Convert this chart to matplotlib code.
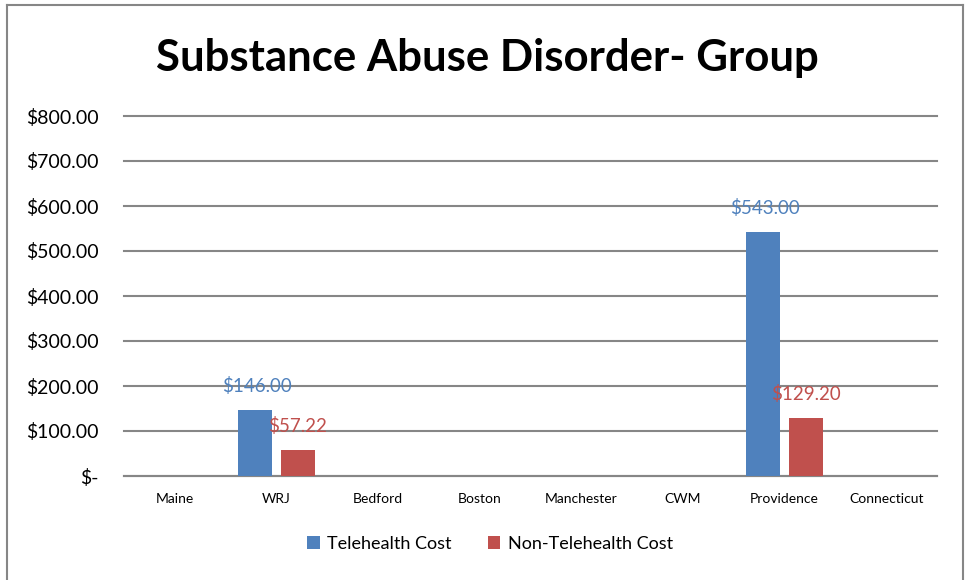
import numpy as np
import matplotlib.pyplot as plt
from matplotlib.lines import Line2D

sites = ["Maine", "WRJ", "Bedford", "Boston", "Manchester", "CWM", "Providence", "Connecticut"]
tele_cost = [0, 146.00, 0, 0, 0, 0, 543.00, 0]
non_tele_cost = [0, 57.22, 0, 0, 0, 0, 129.20, 0]
y_ticks = [0, 100, 200, 300, 400, 500, 600, 700, 800]

blue = "#4F81BD"
red = "#C0504D"
plt.rcParams['font.family'] = ['Lato', 'DejaVu Sans']

fig = plt.figure(figsize=(9.67, 5.8), dpi=100)
ax = fig.add_axes([124 / 967, 1 - 476 / 580, 813 / 967, 360 / 580])

x = np.arange(len(sites))
w = 0.335
b1 = ax.bar(x - 0.215, tele_cost, w, color=blue, label="Telehealth Cost", zorder=3)
b2 = ax.bar(x + 0.215, non_tele_cost, w, color=red, label="Non-Telehealth Cost", zorder=3)

for xi, v in zip(x, tele_cost):
    if v > 0:
        ax.annotate("${:,.2f}".format(v), (xi - 0.19, v), xytext=(0, 24), textcoords="offset pixels",
                    ha="center", va="center", color=blue, fontsize=13.5, zorder=4)
for xi, v in zip(x, non_tele_cost):
    if v > 0:
        ax.annotate("${:,.2f}".format(v), (xi + 0.21, v), xytext=(0, 24), textcoords="offset pixels",
                    ha="center", va="center", color=red, fontsize=13.5, zorder=4)

ax.set_xlim(-0.5, len(sites) - 0.5)
ax.set_ylim(0, 800)
ax.set_yticks(y_ticks)
ax.set_yticklabels(["$-"] + ["${:,.2f}".format(t) for t in y_ticks[1:]], fontsize=14)
ax.set_xticks(x)
ax.set_xticklabels(sites, fontsize=10)
ax.tick_params(axis="both", length=0)
ax.tick_params(axis="y", pad=18)
ax.tick_params(axis="x", pad=12)
ax.grid(axis="y", color="#868686", linewidth=1.5, zorder=0)
for gl in ax.get_ygridlines():
    gl.set_clip_on(False)
for s in ["top", "right", "left"]:
    ax.spines[s].set_visible(False)
ax.spines["bottom"].set_color("#868686")
ax.spines["bottom"].set_linewidth(1.5)

fig.text(487 / 967, 1 - 58 / 580, "Substance Abuse Disorder- Group", ha="center", va="center",
         fontsize=31.5, fontweight="bold")

fig.legend(handles=[b1, b2], loc="center", bbox_to_anchor=(490 / 967, 1 - 544 / 580), ncol=2,
           frameon=False, fontsize=13, handlelength=0.7, handleheight=0.7, handletextpad=0.4,
           columnspacing=2.0)

# outer chart border
border = "#868686"
fig.add_artist(Line2D([7 / 967, 7 / 967], [0, 1 - 5 / 580], color=border, lw=1.5))
fig.add_artist(Line2D([7 / 967, 963 / 967], [1 - 5 / 580, 1 - 5 / 580], color=border, lw=1.5))
fig.add_artist(Line2D([963 / 967, 963 / 967], [0, 1 - 5 / 580], color=border, lw=1.5))

fig.savefig("out.png", dpi=100)
